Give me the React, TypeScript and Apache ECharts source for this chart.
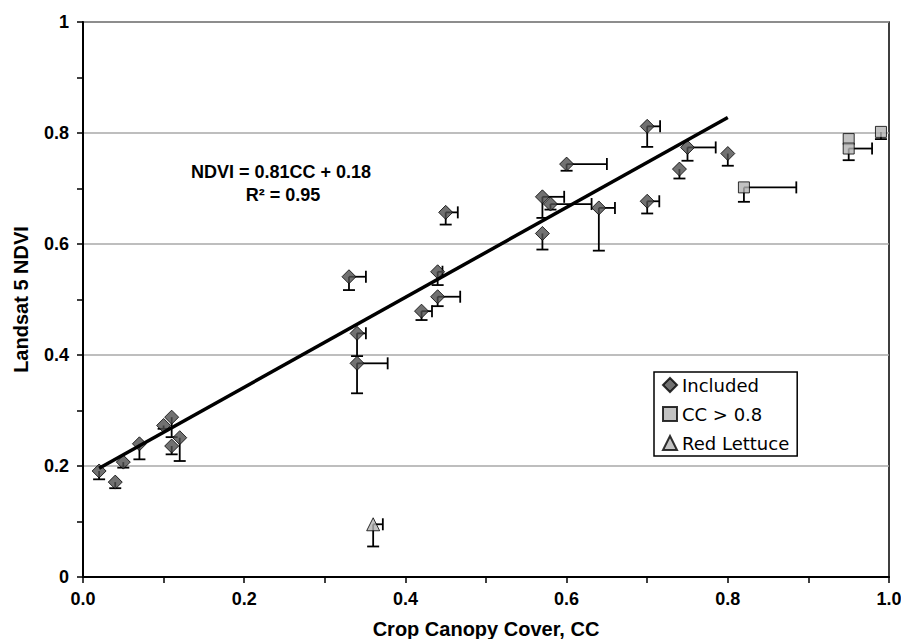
import React, { useEffect, useRef } from "react";
import * as echarts from "echarts";

// Included points: CC, NDVI, +x error, -y error
const includedCC = [0.02, 0.04, 0.05, 0.07, 0.10, 0.11, 0.11, 0.12, 0.33, 0.44, 0.44, 0.42, 0.34, 0.34, 0.45, 0.60, 0.57, 0.58, 0.64, 0.57, 0.70, 0.70, 0.75, 0.74, 0.80];
const includedNDVI = [0.191, 0.171, 0.207, 0.240, 0.273, 0.288, 0.236, 0.251, 0.541, 0.550, 0.505, 0.479, 0.439, 0.385, 0.657, 0.744, 0.685, 0.672, 0.665, 0.619, 0.677, 0.812, 0.774, 0.735, 0.763];
const includedXErr = [0, 0, 0, 0, 0, 0, 0, 0, 0.021, 0.006, 0.028, 0.013, 0.011, 0.038, 0.015, 0.050, 0.027, 0.051, 0.020, 0, 0.015, 0.016, 0.035, 0, 0];
const includedYErr = [0.015, 0.011, 0.010, 0.028, 0.006, 0.036, 0.015, 0.042, 0.024, 0.024, 0.017, 0.016, 0.041, 0.054, 0.022, 0.012, 0.038, 0.010, 0.077, 0.029, 0.022, 0.037, 0.024, 0.017, 0.022];

// CC > 0.8 points
const highCC = [0.82, 0.95, 0.95, 0.99];
const highNDVI = [0.702, 0.789, 0.772, 0.802];
const highXErr = [0.065, 0, 0.029, 0];
const highYErr = [0.026, 0, 0.021, 0.013];

// Red lettuce point
const lettuceCC = [0.36];
const lettuceNDVI = [0.095];
const lettuceXErr = [0.012];
const lettuceYErr = [0.040];

// Regression line endpoints (NDVI = 0.81CC + 0.18)
const fitLine = [
  [0.02, 0.196],
  [0.80, 0.828],
];

const equationText = "NDVI = 0.81CC + 0.18";
const r2Text = "R² = 0.95";

const xTicks = [0, 0.2, 0.4, 0.6, 0.8, 1.0];

const zip = (xs: number[], ys: number[]) => xs.map((x, i) => [x, ys[i]]);
const zipErr = (xs: number[], ys: number[], xe: number[], ye: number[]) =>
  xs.map((x, i) => [x, ys[i], xe[i], ye[i]]);

export default function App() {
  const ref = useRef<HTMLDivElement>(null);
  useEffect(() => {
    if (!ref.current) return;
    const chart = echarts.init(ref.current, null, { renderer: "svg" });
    const font = "'Liberation Sans', Arial, sans-serif";
    const errData = [
      ...zipErr(includedCC, includedNDVI, includedXErr, includedYErr),
      ...zipErr(highCC, highNDVI, highXErr, highYErr),
      ...zipErr(lettuceCC, lettuceNDVI, lettuceXErr, lettuceYErr),
    ];
    const cap = 6;
    const errStyle = { stroke: "#000", lineWidth: 1.8 };
    chart.setOption({
      animation: false,
      backgroundColor: "#fff",
      grid: {
        left: 83,
        right: 12,
        top: 22,
        bottom: 62,
        containLabel: false,
        outerBoundsMode: "none",
        show: true,
        borderColor: "#000",
        borderWidth: 1.5,
        backgroundColor: "transparent",
      },
      xAxis: {
        type: "value",
        min: 0,
        max: 1,
        interval: 0.2,
        name: "Crop Canopy Cover, CC",
        nameLocation: "middle",
        nameGap: 42,
        nameTextStyle: { fontFamily: font, fontWeight: "bold", fontSize: 20, color: "#000" },
        axisLine: { lineStyle: { color: "#000", width: 2 } },
        axisTick: { show: true, length: 6, lineStyle: { color: "#000", width: 1.5 } },
        minorTick: { show: true, splitNumber: 2, length: 6, lineStyle: { color: "#000", width: 1.5 } },
        splitLine: { show: false },
        axisLabel: {
          fontFamily: font,
          fontWeight: "bold",
          fontSize: 18,
          color: "#000",
          margin: 13,
          formatter: (v: number) => {
            const t = xTicks.find((k) => Math.abs(k - v) < 1e-6);
            return t === undefined ? "" : t.toFixed(1);
          },
        },
      },
      yAxis: {
        type: "value",
        min: 0,
        max: 1,
        interval: 0.2,
        name: "Landsat 5 NDVI",
        nameLocation: "middle",
        nameGap: 52,
        nameTextStyle: { fontFamily: font, fontWeight: "bold", fontSize: 20, color: "#000" },
        axisLine: { show: true, lineStyle: { color: "#000", width: 2 } },
        axisTick: { show: true, length: 6, lineStyle: { color: "#000", width: 1.5 } },
        minorTick: { show: true, splitNumber: 2, length: 6, lineStyle: { color: "#000", width: 1.5 } },
        splitLine: { show: true, lineStyle: { color: "#a8a8a8", width: 1.5 } },
        axisLabel: {
          fontFamily: font,
          fontWeight: "bold",
          fontSize: 18,
          color: "#000",
          margin: 14,
          formatter: (v: number) => (v === 0 ? "0" : v === 1 ? "1" : v.toFixed(1)),
        },
      },
      legend: {
        data: ["Included", "CC > 0.8", "Red Lettuce"],
        orient: "vertical",
        left: 654,
        top: 372,
        padding: [2, 8, 2, 8],
        itemGap: 7,
        itemWidth: 14,
        itemHeight: 14,
        borderColor: "#000",
        borderWidth: 1.5,
        backgroundColor: "#fff",
        textStyle: { fontFamily: "'DejaVu Sans', Verdana, sans-serif", fontSize: 18, color: "#000", lineHeight: 22 },
      },
      graphic: [
        {
          type: "text",
          x: 281,
          y: 172,
          style: {
            text: equationText,
            fontFamily: font,
            fontWeight: "bold",
            fontSize: 18,
            fill: "#000",
            align: "center",
            verticalAlign: "middle",
          },
        },
        {
          type: "text",
          x: 283,
          y: 195,
          style: {
            text: r2Text,
            fontFamily: font,
            fontWeight: "bold",
            fontSize: 18,
            fill: "#000",
            align: "center",
            verticalAlign: "middle",
          },
        },
      ],
      series: [
        {
          type: "custom",
          name: "errors",
          z: 2,
          encode: { x: 0, y: 1 },
          data: errData,
          renderItem: (params: any, api: any) => {
            const x = api.value(0);
            const y = api.value(1);
            const xe = api.value(2);
            const ye = api.value(3);
            const p = api.coord([x, y]);
            const children: any[] = [];
            if (ye > 0) {
              const q = api.coord([x, y - ye]);
              children.push({ type: "line", shape: { x1: p[0], y1: p[1], x2: q[0], y2: q[1] }, style: errStyle });
              children.push({ type: "line", shape: { x1: q[0] - cap, y1: q[1], x2: q[0] + cap, y2: q[1] }, style: errStyle });
            }
            if (xe > 0) {
              const q = api.coord([x + xe, y]);
              children.push({ type: "line", shape: { x1: p[0], y1: p[1], x2: q[0], y2: q[1] }, style: errStyle });
              children.push({ type: "line", shape: { x1: q[0], y1: q[1] - cap, x2: q[0], y2: q[1] + cap }, style: errStyle });
            }
            return { type: "group", children };
          },
        },
        {
          type: "scatter",
          name: "Included",
          z: 4,
          symbol: "diamond",
          symbolSize: 14,
          itemStyle: { color: "#4d4d4d", borderColor: "#000", borderWidth: 1 },
          data: zip(includedCC, includedNDVI),
        },
        {
          type: "scatter",
          name: "CC > 0.8",
          z: 4,
          symbol: "rect",
          symbolSize: 11,
          itemStyle: { color: "#b3b3b3", borderColor: "#000", borderWidth: 1 },
          data: zip(highCC, highNDVI),
        },
        {
          type: "scatter",
          name: "Red Lettuce",
          z: 4,
          symbol: "triangle",
          symbolSize: 13,
          itemStyle: { color: "#b3b3b3", borderColor: "#000", borderWidth: 1 },
          data: zip(lettuceCC, lettuceNDVI),
        },
        {
          type: "line",
          name: "fit",
          z: 5,
          symbol: "none",
          lineStyle: { color: "#000", width: 3.5 },
          data: fitLine,
        },
      ],
    });
    return () => chart.dispose();
  }, []);
  return (
    <div
      ref={ref}
      style={{ position: "fixed", left: 0, top: 0, width: 901, height: 639 }}
    />
  );
}
